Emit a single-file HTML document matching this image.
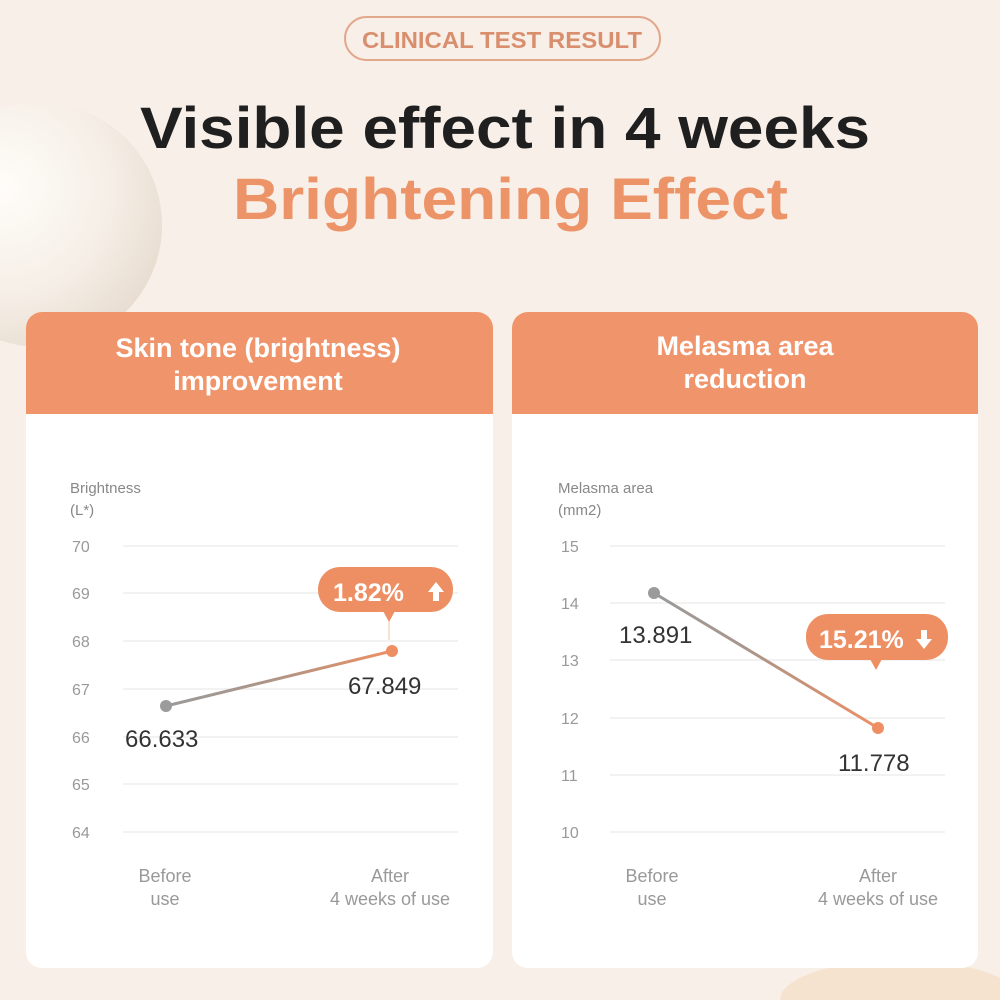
<!DOCTYPE html>
<html><head><meta charset="utf-8"><style>
html,body{margin:0;padding:0;width:1000px;height:1000px;overflow:hidden;background:#f8efe8}
svg{display:block}
text{font-family:"Liberation Sans","DejaVu Sans",sans-serif}
</style></head><body>
<svg width="1000" height="1000" viewBox="0 0 1000 1000" xmlns="http://www.w3.org/2000/svg">
<defs>
<radialGradient id="pearl" cx="0.35" cy="0.35" r="0.75">
<stop offset="0" stop-color="#fffdf9"/><stop offset="0.6" stop-color="#f5eee6"/><stop offset="1" stop-color="#e6dacd"/>
</radialGradient>
<linearGradient id="lg1" x1="0" x2="1"><stop offset="0" stop-color="#9a9a9a"/><stop offset="0.5" stop-color="#b09585"/><stop offset="1" stop-color="#ee8f63"/></linearGradient>
<linearGradient id="lg2" x1="0" x2="1"><stop offset="0" stop-color="#9a9a9a"/><stop offset="0.4" stop-color="#a8968c"/><stop offset="1" stop-color="#ee8f63"/></linearGradient>
</defs>
<rect width="1000" height="1000" fill="#f8efe8"/>
<circle cx="40" cy="225" r="122" fill="url(#pearl)"/>
<ellipse cx="900" cy="1000" rx="120" ry="40" fill="#f6e3cf"/>
<!-- pill -->
<rect x="345" y="17" width="315" height="43" rx="21.5" fill="none" stroke="#e2a88c" stroke-width="2"/>
<text x="362" y="48" textLength="280" lengthAdjust="spacingAndGlyphs" font-size="23" font-weight="bold" fill="#d98f6e">CLINICAL TEST RESULT</text>
<text x="140" y="148" textLength="730" lengthAdjust="spacingAndGlyphs" font-size="58" font-weight="bold" fill="#1f1f1f">Visible effect in 4 weeks</text>
<text x="233" y="219" textLength="555" lengthAdjust="spacingAndGlyphs" font-size="58" font-weight="bold" fill="#ec9468">Brightening Effect</text>

<!-- left card -->
<rect x="26" y="312" width="467" height="656" rx="16" fill="#ffffff"/>
<path d="M26 414 V328 a16 16 0 0 1 16 -16 H477 a16 16 0 0 1 16 16 V414 Z" fill="#f0956b"/>
<text x="258" y="357" text-anchor="middle" font-size="27" font-weight="bold" fill="#fff">Skin tone (brightness)</text>
<text x="258" y="390" text-anchor="middle" font-size="27" font-weight="bold" fill="#fff">improvement</text>
<text x="70" y="493" font-size="15" fill="#888">Brightness</text>
<text x="70" y="515" font-size="15" fill="#888">(L*)</text>
<g stroke="#eeeeee" stroke-width="1.5">
<line x1="123" y1="546" x2="458" y2="546"/><line x1="123" y1="593" x2="458" y2="593"/><line x1="123" y1="641" x2="458" y2="641"/><line x1="123" y1="689" x2="458" y2="689"/><line x1="123" y1="737" x2="458" y2="737"/><line x1="123" y1="784" x2="458" y2="784"/><line x1="123" y1="832" x2="458" y2="832"/>
</g>
<g font-size="16" fill="#999">
<text x="72" y="552">70</text><text x="72" y="599">69</text><text x="72" y="647">68</text><text x="72" y="695">67</text><text x="72" y="743">66</text><text x="72" y="790">65</text><text x="72" y="838">64</text>
</g>
<line x1="166" y1="706" x2="392" y2="651" stroke="url(#lg1)" stroke-width="3"/>
<circle cx="166" cy="706" r="6" fill="#9b9b9b"/>
<circle cx="392" cy="651" r="6" fill="#ee8f63"/>
<line x1="389" y1="612" x2="389" y2="640" stroke="#f3c3aa" stroke-width="1"/>
<text x="125" y="747" font-size="24" fill="#333">66.633</text>
<text x="348" y="694" font-size="24" fill="#333">67.849</text>
<rect x="318" y="567" width="135" height="45" rx="22" fill="#ee8f63"/>
<path d="M383 611 L389 622 L395 611Z" fill="#ee8f63"/>
<text x="333" y="601" font-size="25" font-weight="bold" fill="#fff">1.82%</text>
<path d="M436 582 l-8 10 h5 v9 h6 v-9 h5 Z" fill="#fff"/>
<text x="165" y="882" text-anchor="middle" font-size="18" fill="#999">Before</text>
<text x="165" y="905" text-anchor="middle" font-size="18" fill="#999">use</text>
<text x="390" y="882" text-anchor="middle" font-size="18" fill="#999">After</text>
<text x="390" y="905" text-anchor="middle" font-size="18" fill="#999">4 weeks of use</text>

<!-- right card -->
<rect x="512" y="312" width="466" height="656" rx="16" fill="#ffffff"/>
<path d="M512 414 V328 a16 16 0 0 1 16 -16 H962 a16 16 0 0 1 16 16 V414 Z" fill="#f0956b"/>
<text x="745" y="355" text-anchor="middle" font-size="27" font-weight="bold" fill="#fff">Melasma area</text>
<text x="745" y="388" text-anchor="middle" font-size="27" font-weight="bold" fill="#fff">reduction</text>
<text x="558" y="493" font-size="15" fill="#888">Melasma area</text>
<text x="558" y="515" font-size="15" fill="#888">(mm2)</text>
<g stroke="#eeeeee" stroke-width="1.5">
<line x1="610" y1="546" x2="945" y2="546"/><line x1="610" y1="603" x2="945" y2="603"/><line x1="610" y1="660" x2="945" y2="660"/><line x1="610" y1="718" x2="945" y2="718"/><line x1="610" y1="775" x2="945" y2="775"/><line x1="610" y1="832" x2="945" y2="832"/>
</g>
<g font-size="16" fill="#999">
<text x="561" y="552">15</text><text x="561" y="609">14</text><text x="561" y="666">13</text><text x="561" y="724">12</text><text x="561" y="781">11</text><text x="561" y="838">10</text>
</g>
<line x1="654" y1="593" x2="878" y2="728" stroke="url(#lg2)" stroke-width="3"/>
<circle cx="654" cy="593" r="6" fill="#9b9b9b"/>
<circle cx="878" cy="728" r="6" fill="#ee8f63"/>
<text x="619" y="643" font-size="24" fill="#333">13.891</text>
<text x="838" y="771" font-size="24" fill="#333">11.778</text>
<rect x="806" y="614" width="142" height="46" rx="22" fill="#ee8f63"/>
<path d="M870 659 L876 670 L882 659Z" fill="#ee8f63"/>
<text x="819" y="648" font-size="25" font-weight="bold" fill="#fff">15.21%</text>
<path d="M924 649 l-8 -10 h5 v-9 h6 v9 h5 Z" fill="#fff"/>
<text x="652" y="882" text-anchor="middle" font-size="18" fill="#999">Before</text>
<text x="652" y="905" text-anchor="middle" font-size="18" fill="#999">use</text>
<text x="878" y="882" text-anchor="middle" font-size="18" fill="#999">After</text>
<text x="878" y="905" text-anchor="middle" font-size="18" fill="#999">4 weeks of use</text>
</svg>
</body></html>
